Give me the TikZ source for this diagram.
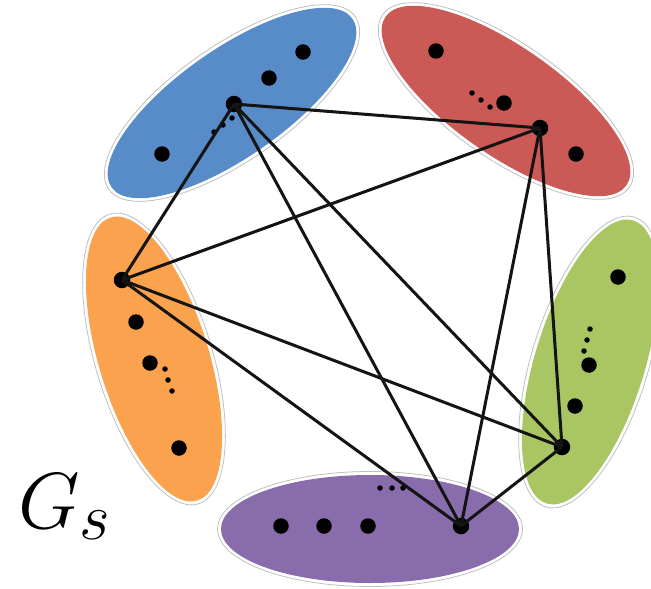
\documentclass[tikz,border=0pt]{standalone}
\usepackage{graphicx}
\usetikzlibrary{calc}
\definecolor{grpblue}{RGB}{88,140,200}
\definecolor{grpred}{RGB}{203,89,85}
\definecolor{grporange}{RGB}{250,162,78}
\definecolor{grpgreen}{RGB}{169,198,99}
\definecolor{grppurple}{RGB}{137,108,171}
\tikzset{
  rim/.style={draw=black!25, line width=0.8pt},
  bigdot/.style={circle, fill=black, inner sep=0pt, minimum size=15.5pt},
  hubdot/.style={circle, fill=black, inner sep=0pt, minimum size=16.5pt},
  tinydot/.style={circle, fill=black, inner sep=0pt, minimum size=5.5pt},
  link/.style={line width=3pt, draw=black!92}
}
\begin{document}
\begin{tikzpicture}[x=1pt,y=1pt]
\useasboundingbox (0,0) rectangle (651,-589);

% coloured groups: outer grey rim, then the filled ellipse
\newcommand{\grp}[6]{%
  \draw[rim, rotate around={#4:(#1,#2)}] (#1,#2) ellipse [x radius=#5+3.5, y radius=#6+3.5];
  \fill[#3, rotate around={#4:(#1,#2)}] (#1,#2) ellipse [x radius=#5, y radius=#6];}
\grp{232}{-103}{grpblue}{35}{147}{54}
\grp{506}{-101}{grpred}{-35}{147}{54}
\grp{154}{-359}{grporange}{-73}{148}{55}
\grp{590}{-362}{grpgreen}{73}{148}{55}
\grp{370}{-529}{grppurple}{0}{149}{54}

% group members
\node[bigdot] (b1) at (303,-52) {};
\node[bigdot] (b2) at (269,-78) {};
\node[bigdot] (b3) at (162,-154) {};
\node[tinydot] (bs1) at (232,-118) {};
\node[tinydot] (bs2) at (223,-125) {};
\node[tinydot] (bs3) at (214,-132) {};

\node[bigdot] (r1) at (436,-51) {};
\node[bigdot] (r2) at (504,-103) {};
\node[bigdot] (r3) at (576,-154) {};
\node[tinydot] (rs1) at (472,-93) {};
\node[tinydot] (rs2) at (481,-100) {};
\node[tinydot] (rs3) at (490,-107) {};

\node[bigdot] (o1) at (136,-322) {};
\node[bigdot] (o2) at (150,-363) {};
\node[bigdot] (o3) at (179,-448) {};
\node[tinydot] (os1) at (165,-369) {};
\node[tinydot] (os2) at (168,-380) {};
\node[tinydot] (os3) at (172,-391) {};

\node[bigdot] (g1) at (618,-277) {};
\node[bigdot] (g2) at (589,-365) {};
\node[bigdot] (g3) at (575,-406) {};
\node[tinydot] (gs1) at (590,-329) {};
\node[tinydot] (gs2) at (587,-340) {};
\node[tinydot] (gs3) at (584,-351) {};

\node[bigdot] (p1) at (281,-526) {};
\node[bigdot] (p2) at (324,-526) {};
\node[bigdot] (p3) at (368,-526) {};
\node[tinydot] (ps1) at (380,-488) {};
\node[tinydot] (ps2) at (392,-488) {};
\node[tinydot] (ps3) at (403,-488) {};

% representatives
\node[hubdot] (hb) at (234,-104) {};
\node[hubdot] (hr) at (540,-128) {};
\node[hubdot] (ho) at (122,-280) {};
\node[hubdot] (hg) at (562,-447) {};
\node[hubdot] (hp) at (461,-526) {};

% complete graph on the representatives
\draw[link] (hb.center) -- (hr.center);
\draw[link] (hb.center) -- (ho.center);
\draw[link] (hb.center) -- (hg.center);
\draw[link] (hb.center) -- (hp.center);
\draw[link] (hr.center) -- (ho.center);
\draw[link] (hr.center) -- (hg.center);
\draw[link] (hr.center) -- (hp.center);
\draw[link] (ho.center) -- (hg.center);
\draw[link] (ho.center) -- (hp.center);
\draw[link] (hg.center) -- (hp.center);

\node[anchor=base west, inner sep=0pt] (lbl) at (18,-528) {\scalebox{3.2}{\Huge$G_s$}};
\end{tikzpicture}
\end{document}
